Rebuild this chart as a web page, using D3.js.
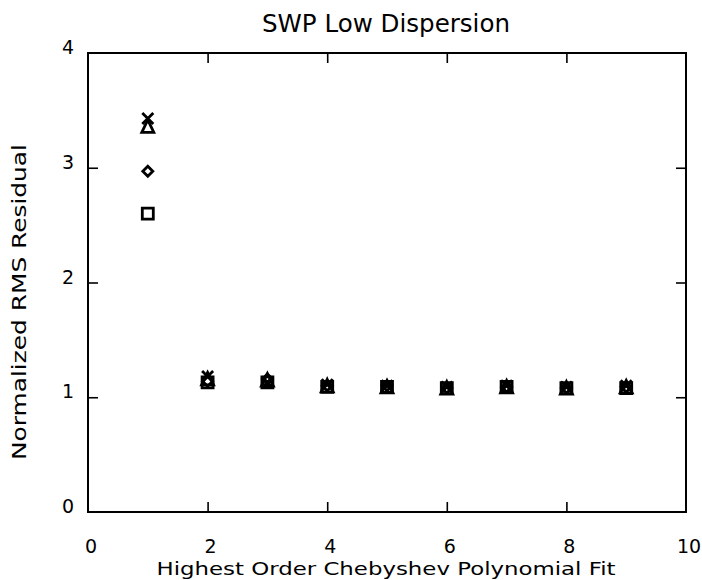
<!DOCTYPE html>
<html>
<head>
<meta charset="utf-8">
<script src="https://cdn.jsdelivr.net/npm/d3@7"></script>
<style>
  html, body { margin: 0; padding: 0; background: #fff; }
  svg text { font-family: "DejaVu Sans", "Liberation Sans", sans-serif; fill: #000; }
</style>
</head>
<body>
<svg id="chart" width="702" height="580"></svg>
<script>
/* ───────────── DATA ───────────── */
const orders   = [1, 2, 3, 4, 5, 6, 7, 8, 9];
const crossVals    = [3.43, 1.18, 1.13, 1.11, 1.10, 1.09, 1.10, 1.09, 1.10];
const triangleVals = [3.36, 1.16, 1.15, 1.10, 1.09, 1.08, 1.09, 1.08, 1.09];
const diamondVals  = [2.97, 1.14, 1.16, 1.10, 1.10, 1.08, 1.09, 1.08, 1.09];
const squareVals   = [2.60, 1.13, 1.13, 1.09, 1.09, 1.08, 1.09, 1.08, 1.08];
const xTicks = [0, 2, 4, 6, 8, 10];
const yTicks = [0, 1, 2, 3, 4];

const series = [
  { name: "square",   vals: squareVals },
  { name: "diamond",  vals: diamondVals },
  { name: "triangle", vals: triangleVals },
  { name: "cross",    vals: crossVals }
];

/* ───────────── LAYOUT ───────────── */
const svg = d3.select("#chart");
const W = 702, H = 580;
const margin = { top: 53, right: 16, bottom: 68, left: 88 };
const w = W - margin.left - margin.right,
      h = H - margin.top - margin.bottom;

const x = d3.scaleLinear().domain([0, 10]).range([0, w]);
const y = d3.scaleLinear().domain([0, 4]).range([h, 0]);

const g = svg.append("g").attr("transform", `translate(${margin.left},${margin.top})`);

// frame
g.append("rect")
  .attr("width", w).attr("height", h)
  .attr("fill", "none").attr("stroke", "#000").attr("stroke-width", 2);

// inner ticks on all four sides
const inner = xTicks.slice(1, -1), innerY = yTicks.slice(1, -1);
function tickAxis(axis, tr) {
  const a = g.append("g").attr("transform", tr).call(axis);
  a.select(".domain").remove();
  a.selectAll("line").attr("stroke", "#000").attr("stroke-width", 1.6);
  a.selectAll("text").remove();
}
tickAxis(d3.axisBottom(x).tickValues(inner).tickSize(-10), `translate(0,${h})`);
tickAxis(d3.axisTop(x).tickValues(inner).tickSize(-10), "translate(0,0)");
tickAxis(d3.axisLeft(y).tickValues(innerY).tickSize(-10), "translate(0,0)");
tickAxis(d3.axisRight(y).tickValues(innerY).tickSize(-10), `translate(${w},0)`);

// tick labels
g.selectAll(".xl").data(xTicks).join("text")
  .attr("x", d => x(d) + 3).attr("y", h + 41)
  .attr("text-anchor", "middle").style("font-size", "19px")
  .text(d => d);
g.selectAll(".yl").data(yTicks).join("text")
  .attr("x", -20).attr("y", d => y(d) + 1)
  .attr("text-anchor", "middle").style("font-size", "19px")
  .text(d => d);

// titles
svg.append("text")
  .attr("x", 386).attr("y", 32).attr("text-anchor", "middle")
  .attr("textLength", 248).attr("lengthAdjust", "spacingAndGlyphs")
  .style("font-size", "24px").text("SWP Low Dispersion");
svg.append("text")
  .attr("x", 386).attr("y", 575).attr("text-anchor", "middle")
  .attr("textLength", 459).attr("lengthAdjust", "spacingAndGlyphs")
  .style("font-size", "17px").text("Highest Order Chebyshev Polynomial Fit");
svg.append("text")
  .attr("transform", "translate(26,302) rotate(-90)").attr("text-anchor", "middle")
  .attr("textLength", 316).attr("lengthAdjust", "spacingAndGlyphs")
  .style("font-size", "19px").text("Normalized RMS Residual");

/* ───────────── MARKERS ───────────── */
const shapes = {
  square:   "M-5.5,-5.5H5.5V5.5H-5.5Z",
  diamond:  "M0,-5L5,0L0,5L-5,0Z",
  triangle: "M0,-6.5L6,6L-6,6Z",
  cross:    "M-5.5,-5.5L5.5,5.5M5.5,-5.5L-5.5,5.5"
};

series.forEach(s => {
  g.append("g").selectAll("path")
    .data(orders.map((o, i) => ({ o, v: s.vals[i] })))
    .join("path")
    .attr("transform", d => `translate(${x(d.o)},${y(d.v)})`)
    .attr("d", shapes[s.name])
    .attr("fill", "none")
    .attr("stroke", "#000")
    .attr("stroke-width", 2.8);
});
</script>
</body>
</html>
